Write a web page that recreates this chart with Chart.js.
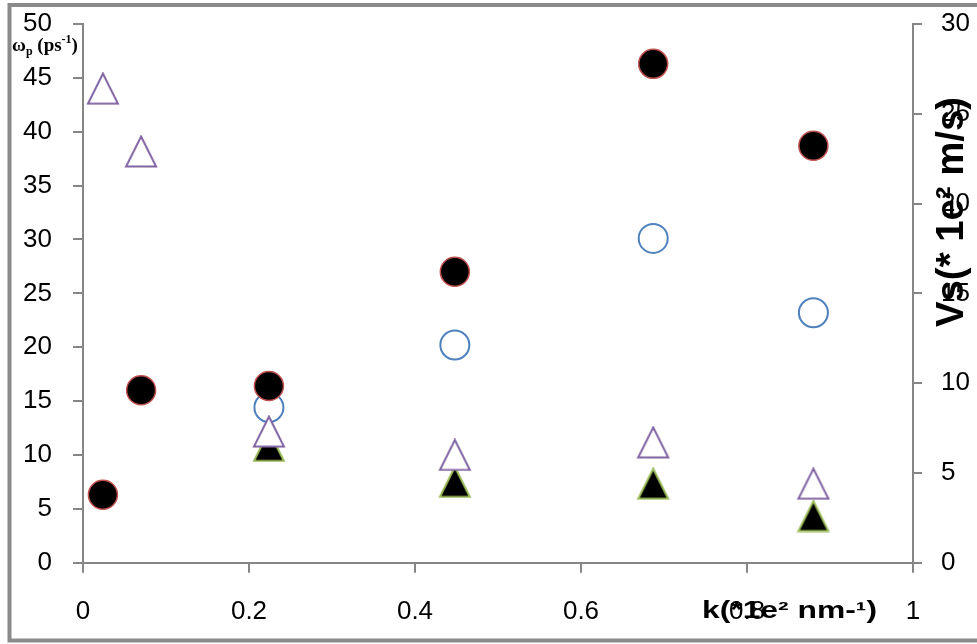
<!DOCTYPE html>
<html><head><meta charset="utf-8">
<script src="https://cdn.jsdelivr.net/npm/chart.js@4/dist/chart.umd.min.js"></script>
<style>html,body{margin:0;padding:0;background:#fff;} #wrap{width:977px;height:644px;position:relative;}</style>
</head><body><div id="wrap"><canvas id="c" width="977" height="644"></canvas></div>
<script>
// ---- data ----
const kOmegaA = [0.024, 0.070, 0.224, 0.448, 0.687, 0.880];
const omegaA  = [6.3, 16.0, 16.4, 27.0, 46.3, 38.7];
const kOmegaB = [0.224, 0.448, 0.687, 0.880];
const omegaB  = [14.4, 20.2, 30.1, 23.2];
const kVsA    = [0.024, 0.070, 0.224, 0.448, 0.687, 0.880];
const vsA     = [26.4, 22.9, 7.3, 6.0, 6.7, 4.4];
const kVsB    = [0.224, 0.448, 0.687, 0.880];
const vsB     = [6.5, 4.5, 4.4, 2.6];
const xTickLabels = ['0', '0.2', '0.4', '0.6', '0.8', '1'];
const leftTickLabels = ['0','5','10','15','20','25','30','35','40','45','50'];
const rightTickLabels = ['0','5','10','15','20','25','30'];
const xTitle = 'k(*1e\u00B2 nm-\u00B9)';
const rightTitle = 'Vs(* 1e\u00B2 m/s)';

function pts(xs, ys){ return xs.map((x,i)=>({x:x, y:ys[i]})); }

function triangleImage(fill, stroke, lw){
  const c = document.createElement('canvas');
  c.width = 34; c.height = 33;
  const g = c.getContext('2d');
  g.beginPath();
  g.moveTo(17, 1.5); g.lineTo(32, 31.5); g.lineTo(2, 31.5); g.closePath();
  g.fillStyle = fill; g.fill();
  g.lineWidth = lw; g.strokeStyle = stroke; g.lineJoin = 'miter'; g.stroke();
  return c;
}
const triOpen = triangleImage('#ffffff', '#8064A2', 2);
const triFilled = triangleImage('#000000', '#9BBB59', 2);

const AX = '#868686';
const tickFont = {family: '"Liberation Sans", Arial, sans-serif', size: 26};

const deco = {
  id: 'deco',
  afterDraw(chart){
    const ctx = chart.ctx;
    ctx.save();
    // outer frame
    ctx.strokeStyle = '#8a8a8a'; ctx.lineWidth = 4;
    ctx.beginPath();
    ctx.moveTo(980, 5); ctx.lineTo(9.5, 5); ctx.lineTo(9.5, 640.5); ctx.lineTo(980, 640.5);
    ctx.stroke();
    ctx.fillStyle = '#000';
    // top-left label  ωp (ps-1)
    let x = 12, base = 51;
    const serif = '"Liberation Serif", "Times New Roman", serif';
    ctx.textBaseline = 'alphabetic'; ctx.textAlign = 'left';
    ctx.font = 'bold 19px ' + serif; ctx.fillText('\u03C9', x, base); x += ctx.measureText('\u03C9').width;
    ctx.font = 'bold 12px ' + serif; ctx.fillText('p', x, base + 4); x += ctx.measureText('p').width;
    ctx.font = 'bold 19px ' + serif; ctx.fillText(' (ps', x, base); x += ctx.measureText(' (ps').width;
    ctx.font = 'bold 12px ' + serif; ctx.fillText('-1', x, base - 8); x += ctx.measureText('-1').width;
    ctx.font = 'bold 19px ' + serif; ctx.fillText(')', x, base);
    // x title (stretched horizontally)
    ctx.font = 'bold 23px "Liberation Sans", Arial, sans-serif';
    let w = ctx.measureText(xTitle).width;
    ctx.save();
    ctx.translate(702, 618);
    ctx.scale(175 / w, 1);
    ctx.fillText(xTitle, 0, 0);
    ctx.restore();
    // right title rotated
    ctx.font = 'bold 38px "Liberation Sans", Arial, sans-serif';
    w = ctx.measureText(rightTitle).width;
    ctx.save();
    ctx.translate(963, 212);
    ctx.rotate(-Math.PI / 2);
    ctx.scale(230 / w, 1);
    ctx.textAlign = 'center';
    ctx.fillText(rightTitle, 0, 0);
    ctx.restore();
    ctx.restore();
  }
};

function fixV(w){ return s => { s.width = w; s.paddingTop = 0; s.paddingBottom = 0; }; }

new Chart(document.getElementById('c'), {
  type: 'scatter',
  data: {
    datasets: [
      {label: 'omega A', data: pts(kOmegaA, omegaA), yAxisID: 'y', order: 0,
       pointStyle: 'circle', pointRadius: 14.5, pointHoverRadius: 14.5,
       backgroundColor: '#000000', borderColor: '#C0504D', borderWidth: 1.5},
      {label: 'Vs A', data: pts(kVsA, vsA), yAxisID: 'y1', order: 1,
       pointStyle: triOpen, pointRadius: 15},
      {label: 'Vs B', data: pts(kVsB, vsB), yAxisID: 'y1', order: 2,
       pointStyle: triFilled, pointRadius: 15},
      {label: 'omega B', data: pts(kOmegaB, omegaB), yAxisID: 'y', order: 3,
       pointStyle: 'circle', pointRadius: 14.5, pointHoverRadius: 14.5,
       backgroundColor: '#ffffff', borderColor: '#4F81BD', borderWidth: 2}
    ]
  },
  options: {
    responsive: false, animation: false, devicePixelRatio: 1,
    clip: false,
    layout: {padding: {top: 24, left: 0, right: 0, bottom: 0}},
    plugins: {legend: {display: false}, tooltip: {enabled: false}},
    scales: {
      x: {
        type: 'linear', min: 0, max: 1,
        afterFit: s => { s.height = 81.3; s.paddingLeft = 0; s.paddingRight = 0; },
        ticks: {stepSize: 0.2, color: '#000', font: tickFont, padding: 24, maxRotation: 0,
          callback: (v, i) => xTickLabels[i]},
        grid: {drawOnChartArea: false, drawTicks: true, tickLength: 10, color: AX, lineWidth: 2},
        border: {display: true, color: AX, width: 2}
      },
      y: {
        type: 'linear', position: 'left', min: 0, max: 50,
        afterFit: fixV(83),
        ticks: {stepSize: 5, color: '#000', font: tickFont, padding: 21,
          callback: (v, i) => leftTickLabels[i]},
        grid: {drawOnChartArea: false, drawTicks: true, tickLength: 10, color: AX, lineWidth: 2},
        border: {display: true, color: AX, width: 2}
      },
      y1: {
        type: 'linear', position: 'right', min: 0, max: 30,
        afterFit: fixV(64),
        ticks: {stepSize: 5, color: '#000', font: tickFont, padding: 19,
          callback: (v, i) => rightTickLabels[i]},
        grid: {drawOnChartArea: false, drawTicks: true, tickLength: 9, color: AX, lineWidth: 2},
        border: {display: true, color: AX, width: 2}
      }
    }
  },
  plugins: [deco]
});
</script>
</body></html>
